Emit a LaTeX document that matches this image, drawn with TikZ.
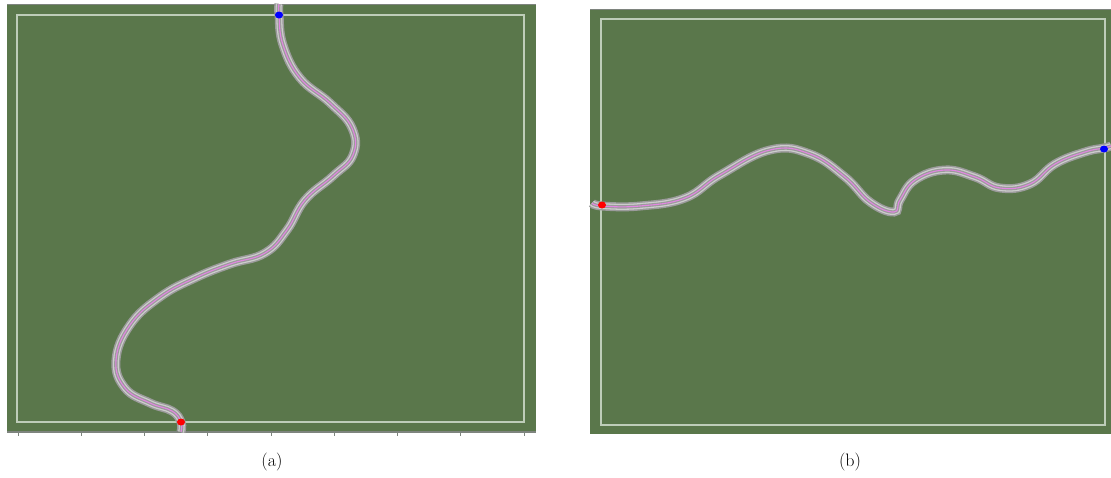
\documentclass[tikz,border=0pt]{standalone}
\usetikzlibrary{shapes.geometric}
\definecolor{field}{RGB}{90,119,75}
\definecolor{bord}{RGB}{190,205,185}
\definecolor{edge}{RGB}{70,80,70}
\definecolor{roadg}{RGB}{155,155,155}
\definecolor{roadl}{RGB}{205,205,205}
\definecolor{pinkl}{RGB}{225,135,225}
\tikzset{
  fieldbox/.style={fill=field,draw=none},
  innerbord/.style={draw=bord,line width=1.4pt},
  topedge/.style={draw=edge!70,line width=1.2pt},
  r1/.style={draw=roadg,line width=9pt,line cap=butt},
  r2/.style={draw=roadl,line width=6pt,line cap=butt},
  r3/.style={draw=roadg,line width=3.4pt,line cap=butt},
  r4/.style={draw=pinkl,line width=1.1pt,line cap=butt},
  startpt/.style={ellipse,fill=red,minimum width=8pt,minimum height=7pt,inner sep=0pt},
  goalpt/.style={ellipse,fill=blue,minimum width=8pt,minimum height=7pt,inner sep=0pt},
  captext/.style={font=\fontsize{18}{21}\selectfont}
}
\def\pathA{(279,4) (279,15) (283,45) (300,78) (330,103) (352,128) (353,155) (333,176) (305,200) (287,230) (265,253) (230,264) (195,278) (160,297) (130,325) (116,360) (125,388) (150,403) (172,411) (181,422) (181,432)}
\def\pathB{(592,203) (602,206) (640,206) (685,198) (720,175) (770,150) (810,154) (845,177) (870,202) (894,212) (900,200) (915,180) (945,170) (975,177) (1000,188) (1030,184) (1055,164) (1085,152) (1104,148) (1111,146)}
\def\tens{0.72}
\begin{document}
\begin{tikzpicture}[x=1pt,y=-1pt]
\useasboundingbox (0,0) rectangle (1111,477);
% panel (a)
\fill[fieldbox] (7,4) rectangle (536,432);
\draw[topedge] (7,4.5) -- (536,4.5);
\draw[topedge] (7,432) -- (536,432);
\foreach \t in {18,81.25,144.5,207.75,271,334.25,397.5,460.75,524}
  \draw[edge!70,line width=0.8pt] (\t,432) -- (\t,436);
\draw[innerbord] (17,15) rectangle (524,422);
\draw[r1] plot[smooth,tension=\tens] coordinates {\pathA};
\draw[r2] plot[smooth,tension=\tens] coordinates {\pathA};
\draw[r3] plot[smooth,tension=\tens] coordinates {\pathA};
\draw[r4] plot[smooth,tension=\tens] coordinates {\pathA};
\node[goalpt] (goalA) at (279,15) {};
\node[startpt] (startA) at (181,422) {};
\node[captext] (capA) at (272,462) {(a)};
% panel (b)
\fill[fieldbox] (590,9) rectangle (1111,434);
\draw[topedge] (590,9.5) -- (1111,9.5);
\draw[innerbord] (601,19) rectangle (1105,425);
\draw[r1] plot[smooth,tension=\tens] coordinates {\pathB};
\draw[r2] plot[smooth,tension=\tens] coordinates {\pathB};
\draw[r3] plot[smooth,tension=\tens] coordinates {\pathB};
\draw[r4] plot[smooth,tension=\tens] coordinates {\pathB};
\node[startpt] (startB) at (602,205) {};
\node[goalpt] (goalB) at (1104,149) {};
\node[captext] (capB) at (850,462) {(b)};
\end{tikzpicture}
\end{document}
